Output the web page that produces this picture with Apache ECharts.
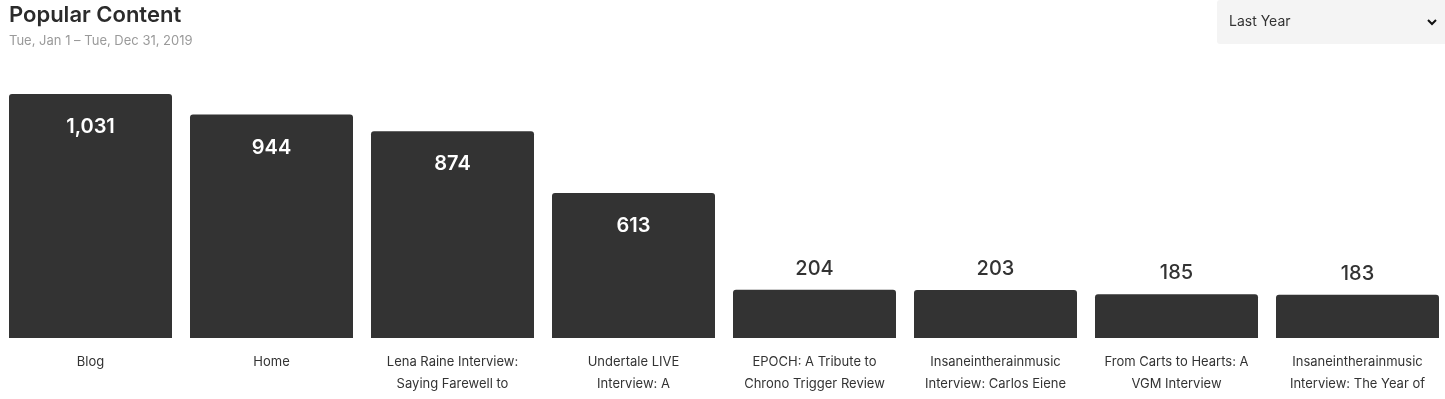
<!DOCTYPE html>
<html>
<head>
<meta charset="utf-8">
<script src="https://cdn.jsdelivr.net/npm/echarts@6/dist/echarts.min.js"></script>
<style>
html,body{margin:0;padding:0;background:#fff;overflow:hidden;}
#chart{width:1448px;height:399px;}
</style>
</head>
<body>
<div id="chart"></div>
<script>
const titleText = 'Popular Content';
const subText = 'Tue, Jan 1 \u2013 Tue, Dec 31, 2019';
const rangeLabel = 'Last Year';
const categories = [
  'Blog',
  'Home',
  'Lena Raine Interview:\nSaying Farewell to',
  'Undertale LIVE\nInterview: A',
  'EPOCH: A Tribute to\nChrono Trigger Review',
  'Insaneintherainmusic\nInterview: Carlos Eiene',
  'From Carts to Hearts: A\nVGM Interview',
  'Insaneintherainmusic\nInterview: The Year of'
];
const views = [1031, 944, 874, 613, 204, 203, 185, 183];

const FONT = 'Inter, "Noto Sans", sans-serif';
const chart = echarts.init(document.getElementById('chart'));
const maxV = Math.max.apply(null, views);

const data = views.map(v => {
  const inside = v > maxV * 0.4;
  return {
    value: v,
    label: inside ? {
      position: 'insideTop', distance: 23, color: '#ffffff',
      fontSize: 20, fontWeight: 600
    } : {
      position: 'top', distance: 11, color: '#333333',
      fontSize: 20, fontWeight: 500
    }
  };
});

chart.setOption({
  animation: false,
  textStyle: { fontFamily: FONT },
  title: {
    text: titleText,
    subtext: subText,
    left: 4, top: -1,
    itemGap: 9,
    textStyle: { fontFamily: FONT, fontSize: 22, fontWeight: 600, color: '#2b2b2b' },
    subtextStyle: { fontFamily: FONT, fontSize: 13, color: '#9a9a9a' }
  },
  grid: { left: 0, right: 0, top: 94, bottom: 61, containLabel: false },
  xAxis: {
    type: 'category',
    data: categories,
    axisLine: { show: false },
    axisTick: { show: false },
    axisLabel: {
      interval: 0, margin: 13, color: '#333333', fontSize: 13,
      lineHeight: 22, fontFamily: FONT
    }
  },
  yAxis: {
    type: 'value', min: 0, max: maxV,
    show: false, splitLine: { show: false }
  },
  series: [{
    type: 'bar',
    data: data,
    barWidth: 163,
    itemStyle: { color: '#333333', borderRadius: [3, 3, 0, 0] },
    label: {
      show: true, fontFamily: FONT,
      formatter: p => p.value.toLocaleString('en-US')
    }
  }],
  graphic: [
    { type: 'rect', shape: { x: 1217, y: 0, width: 240, height: 44, r: 3 }, style: { fill: '#f4f4f4' } },
    { type: 'text', x: 1229, y: 22, style: { text: rangeLabel, fontFamily: FONT, fontSize: 14, fill: '#333', textVerticalAlign: 'middle', verticalAlign: 'middle' } },
    { type: 'polyline', shape: { points: [[1428, 20], [1432, 24], [1436, 20]] }, style: { stroke: '#111', lineWidth: 2, fill: null } }
  ]
});
</script>
</body>
</html>
